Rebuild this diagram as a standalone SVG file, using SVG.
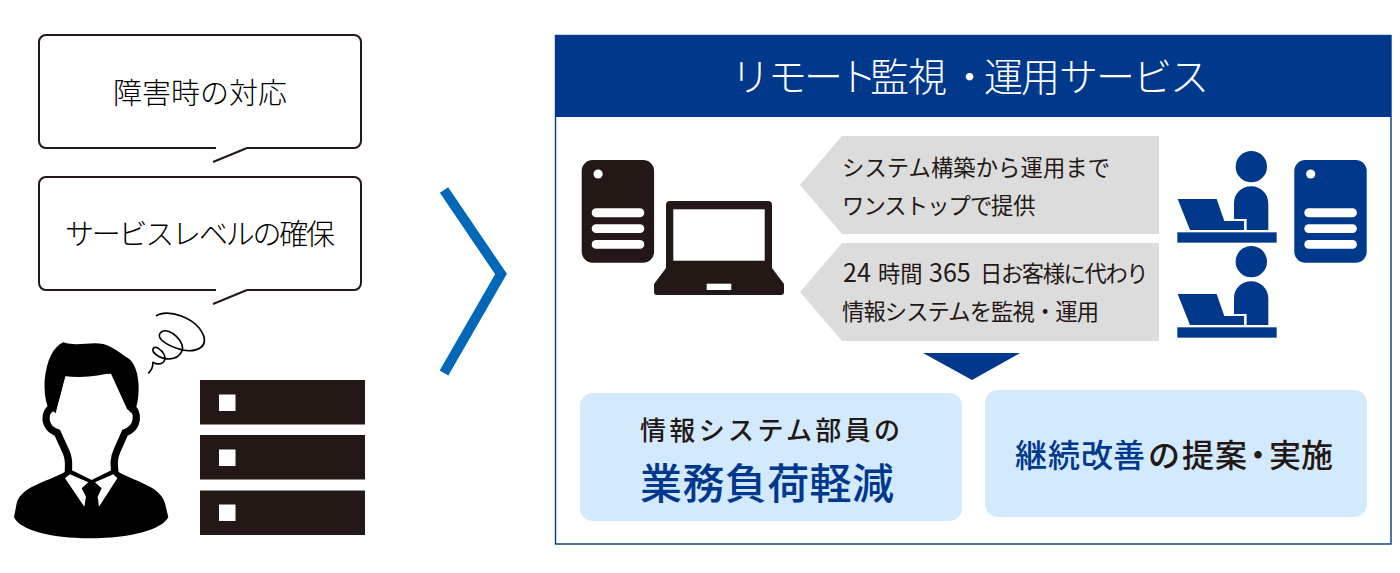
<svg xmlns="http://www.w3.org/2000/svg" width="1400" height="573" viewBox="0 0 1400 573">
<style>
text{font-family:"Noto Sans CJK JP","Noto Sans",sans-serif}
.bub{fill:#fff;stroke:#231815;stroke-width:2}
.tail{fill:none;stroke:#231815;stroke-width:2}
.k{fill:#231815}
.n{fill:#00388c}
.w{fill:#fff}
.g{fill:#dcdcdc}
.lb{fill:#d3e9fd}
.t1{font-size:29px;fill:#000;font-weight:300}
.t2{font-size:22.3px;fill:#231815;font-weight:400}
</style>
<defs>
<g id="tower"><rect x="0" y="0" width="72.4" height="102.7" rx="11"/><circle cx="16.4" cy="14" r="4.6" fill="#fff"/><rect x="10" y="48.3" width="52.6" height="9" rx="4.5" fill="#fff"/><rect x="10" y="64.2" width="52.6" height="8.8" rx="4.4" fill="#fff"/><rect x="10" y="80" width="52.6" height="8.8" rx="4.4" fill="#fff"/></g>
<g id="op" transform="translate(1160 140) scale(.3333)"><circle cx="274" cy="80" r="47"/><path d="M260,270H325V190C325,160 300,139 274,139C245,139 222,160 222,190V237H260Z"/><path d="M53,177H170L193,243H252V270H90Z"/><rect x="52" y="277" width="298" height="31"/></g>
</defs>
<g id="bubble-1"><rect class="bub" x="39" y="35" width="322" height="113" rx="7"/><path d="M216,148H247" stroke="#fff" stroke-width="4"/><path class="tail" d="M213,162L247,148"/><text class="t1" x="200" y="104" text-anchor="middle">障害時の対応</text></g>
<g id="bubble-2"><rect class="bub" x="39" y="177" width="322" height="113" rx="7"/><path d="M216,290H247" stroke="#fff" stroke-width="4"/><path class="tail" d="M213,304L247,290"/><text class="t1" x="65" y="245" textLength="270" lengthAdjust="spacing">サービスレベルの確保</text></g>
<g id="person" transform="translate(0 280) scale(.3333)">
<path d="M468,108C500,85 590,110 612,170C622,212 570,220 530,205C490,190 465,170 485,155C510,140 560,190 545,215C530,245 490,240 470,225C450,212 460,195 475,205C505,225 500,260 465,250C450,240 470,255 445,280" fill="none" stroke="#000" stroke-width="5"/>
<path d="M205,570C150,605 65,615 50,670L42,712C60,750 150,775 270,775C390,775 485,750 505,712L495,670C480,615 400,605 345,570Z"/>
<path d="M160,380C128,395 130,445 172,458L198,515C210,540 205,560 205,578L275,612L345,578C342,555 340,535 352,510L375,458C415,445 420,395 390,380L340,270H190Z" fill="#fff" stroke="#000" stroke-width="22"/>
<path d="M190,187C160,200 140,240 134,300C132,340 138,370 146,385L168,400C170,370 188,340 190,288C250,295 300,288 340,277C350,320 385,360 390,398L408,385C422,340 420,260 385,235C360,220 340,200 310,192C270,185 230,200 190,187Z"/>
<path class="w" d="M195,595L210,583L265,607L245,625L258,650L253,680Z"/>
<path class="w" d="M352,595L340,583L285,607L305,625L293,650L297,680Z"/>
</g>
<g id="server-rack" class="k">
<rect x="200" y="380" width="165" height="44.5"/><rect x="200" y="435" width="165" height="44.5"/><rect x="200" y="490.5" width="165" height="44.5"/>
<rect class="w" x="219" y="394.5" width="16.5" height="16.5"/><rect class="w" x="219" y="449.5" width="16.5" height="16.5"/><rect class="w" x="219" y="504.5" width="16.5" height="16.5"/>
</g>
<g id="connectors"><path d="M444,190L501,274L444,373" fill="none" stroke="#0068b7" stroke-width="10"/></g>
<g id="service-panel"><rect x="555.5" y="35.5" width="835.5" height="508.5" fill="#fff" stroke="#00388c" stroke-width="1.4"/><rect class="n" x="555" y="35" width="836" height="82"/><text y="91" font-size="39" fill="#fff" font-weight="300" x="731 768 804 838 870 908 950 984 1021 1059 1096 1133 1170">リモート監視・運用サービス</text></g>
<g id="tower-black" class="k"><use href="#tower" x="581.7" y="160"/></g>
<g id="laptop" class="k"><path d="M666,268V205Q666,201 670,201H768Q772,201 772,205V268L784,284V292Q784,295 781,295H657Q654,295 654,292V284Z"/><rect class="w" x="673.3" y="209.3" width="91.4" height="51.4"/><rect class="w" x="706.7" y="283.7" width="24.6" height="6.3"/></g>
<g id="note-1"><path class="g" d="M842,136H1159V234H842L800,185Z"/><text class="t2" x="842" y="176" textLength="268">システム構築から運用まで</text><text class="t2" y="214"><tspan x="842" letter-spacing="-.9">ワンストップで</tspan><tspan x="991">提供</tspan></text></g>
<g id="note-2"><path class="g" d="M842,243H1159V341H842L800,292Z"/><text class="t2" y="282"><tspan x="843" font-size="25">24</tspan><tspan x="878">時間</tspan><tspan x="929" font-size="25">365</tspan><tspan x="980" letter-spacing="-1.4">日お客様に代わり</tspan></text><text class="t2" x="842" y="320" textLength="257">情報システムを監視・運用</text></g>
<g id="operators" class="n"><use href="#op"/><use href="#op" y="95"/></g>
<g id="tower-blue" class="n"><use href="#tower" x="1294.3" y="160"/></g>
<g id="down-arrow"><path class="n" d="M923,353H1020L972,380Z"/></g>
<g id="result-1"><rect class="lb" x="580" y="393" width="382" height="128" rx="13"/><text x="640" y="440" font-size="26" fill="#231815" font-weight="500" textLength="260">情報システム部員の</text><text x="640" y="499" font-size="42" fill="#00388c" font-weight="500" textLength="254">業務負荷軽減</text></g>
<g id="result-2"><rect class="lb" x="985" y="390" width="382" height="127" rx="13"/><text y="467" font-size="32" fill="#231815" font-weight="500" x="1015 1048 1081 1113 1148 1182 1215 1242 1269 1301"><tspan fill="#00388c">継続改善</tspan>の提案・実施</text></g>
</svg>
